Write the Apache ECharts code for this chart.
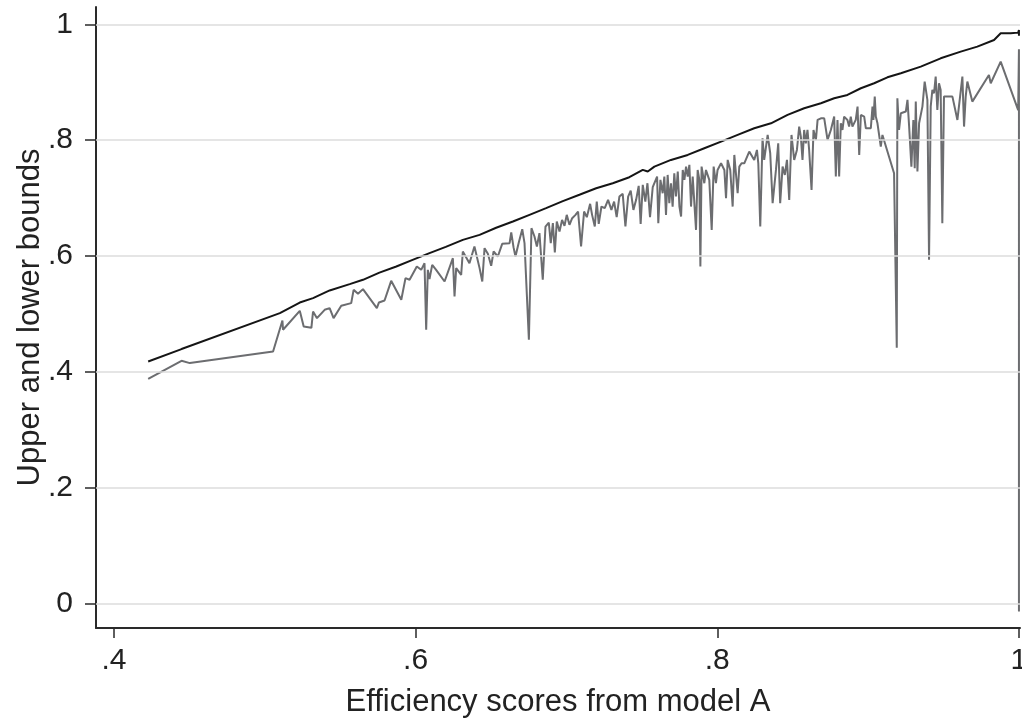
<!DOCTYPE html>
<html><head><meta charset="utf-8">
<script src="https://cdn.jsdelivr.net/npm/echarts@6/dist/echarts.min.js"></script>
<style>html,body{margin:0;padding:0;background:#fff}#c{width:1022px;height:724px}</style>
</head><body><div id="c"></div>
<script>
const xTicks = [0.4, 0.6, 0.8, 1];
const yTicks = [0, 0.2, 0.4, 0.6, 0.8, 1];
const xTitle = 'Efficiency scores from model A';
const yTitle = 'Upper and lower bounds';

const upperBound = [
[0.4227,0.4183],[0.4448,0.4397],[0.5100,0.5017],[0.5232,0.5200],[0.5320,0.5276],[0.5430,0.5408],
[0.5563,0.5517],[0.5651,0.5592],[0.5760,0.5715],[0.5872,0.5822],[0.5980,0.5935],[0.6092,0.6051],
[0.6200,0.6160],[0.6313,0.6281],[0.6424,0.6367],[0.6534,0.6490],[0.6645,0.6597],[0.6755,0.6713],
[0.6865,0.6828],[0.6976,0.6950],[0.7086,0.7060],[0.7197,0.7172],[0.7307,0.7258],[0.7417,0.7362],
[0.7506,0.7488],[0.7539,0.7459],[0.7583,0.7545],[0.7693,0.7660],[0.7804,0.7746],[0.7914,0.7861],
[0.8025,0.7976],[0.8135,0.8091],[0.8245,0.8206],[0.8356,0.8292],[0.8466,0.8436],[0.8576,0.8551],
[0.8687,0.8637],[0.8775,0.8723],[0.8863,0.8781],[0.8952,0.8896],[0.9040,0.8982],[0.9128,0.9085],
[0.9217,0.9155],[0.9349,0.9270],[0.9481,0.9413],[0.9614,0.9528],[0.9724,0.9614],[0.9835,0.9729],
[0.9879,0.9844],[0.9945,0.9844],[0.9995,0.9856],[1.0,0.9900],[1.0,0.9800]
];

const lowerBound = [
[0.4227,0.3884],[0.4448,0.4195],[0.4503,0.4155],[0.5055,0.4355],[0.5117,0.4890],[0.5121,0.4730],
[0.5232,0.5057],[0.5258,0.4787],[0.5309,0.4764],[0.5320,0.5045],[0.5346,0.4930],[0.5397,0.5074],
[0.5430,0.5103],[0.5456,0.4931],[0.5507,0.5143],[0.5573,0.5189],[0.5589,0.5419],[0.5618,0.5350],
[0.5651,0.5431],[0.5743,0.5103],[0.5757,0.5201],[0.5794,0.5235],[0.5838,0.5574],[0.5905,0.5247],
[0.5933,0.5620],[0.5960,0.5592],[0.6008,0.5822],[0.6037,0.5764],[0.6059,0.5879],[0.6070,0.4730],
[0.6081,0.5764],[0.6092,0.5603],[0.6110,0.5850],[0.6136,0.5764],[0.6192,0.5563],[0.6247,0.5965],
[0.6258,0.5304],[0.6269,0.5793],[0.6302,0.5678],[0.6313,0.6080],[0.6357,0.5879],[0.6390,0.6166],
[0.6424,0.5793],[0.6442,0.5563],[0.6457,0.6138],[0.6479,0.6040],[0.6501,0.5833],[0.6517,0.6080],
[0.6545,0.5994],[0.6574,0.6212],[0.6623,0.6224],[0.6634,0.6408],[0.6649,0.6155],[0.6662,0.5994],
[0.6684,0.6235],[0.6707,0.6465],[0.6722,0.6224],[0.6751,0.4557],[0.6768,0.6482],[0.6788,0.6339],
[0.6804,0.6166],[0.6821,0.6396],[0.6843,0.5592],[0.6861,0.6511],[0.6883,0.6580],[0.6896,0.6224],
[0.6910,0.6569],[0.6923,0.6063],[0.6936,0.6597],[0.6954,0.6425],[0.6971,0.6626],[0.6987,0.6523],
[0.7002,0.6712],[0.7020,0.6540],[0.7038,0.6655],[0.7060,0.6712],[0.7077,0.6770],[0.7097,0.6166],
[0.7117,0.6770],[0.7135,0.6672],[0.7157,0.6902],[0.7170,0.6712],[0.7188,0.6511],[0.7201,0.6942],
[0.7214,0.6557],[0.7232,0.6856],[0.7254,0.6827],[0.7276,0.6971],[0.7298,0.6798],[0.7316,0.6942],
[0.7333,0.6672],[0.7351,0.7028],[0.7373,0.7074],[0.7391,0.6511],[0.7409,0.7028],[0.7426,0.7132],
[0.7444,0.6798],[0.7462,0.6971],[0.7479,0.7212],[0.7492,0.6557],[0.7506,0.7229],[0.7523,0.6942],
[0.7537,0.7258],[0.7554,0.6672],[0.7572,0.7189],
[0.7583,0.7200],[0.7601,0.7373],[0.7609,0.6568],[0.7623,0.7315],[0.7638,0.7085],[0.7649,0.7373],
[0.7660,0.6712],[0.7671,0.7401],[0.7682,0.6913],[0.7693,0.7258],[0.7704,0.6855],[0.7715,0.7430],
[0.7726,0.7028],[0.7738,0.7459],[0.7749,0.6855],[0.7760,0.6683],[0.7771,0.7487],[0.7782,0.7315],
[0.7793,0.7545],[0.7804,0.7373],[0.7815,0.7574],[0.7826,0.6855],[0.7837,0.7373],[0.7848,0.7401],
[0.7859,0.6453],[0.7870,0.7487],[0.7881,0.7315],[0.7888,0.5821],[0.7896,0.7545],[0.7914,0.7258],
[0.7925,0.7487],[0.7947,0.7315],[0.7963,0.6453],[0.7976,0.7545],[0.7991,0.7258],[0.8002,0.7487],
[0.8025,0.7602],[0.8047,0.7487],[0.8058,0.6999],[0.8069,0.7660],[0.8086,0.7487],[0.8102,0.6855],
[0.8113,0.7746],[0.8135,0.7085],[0.8146,0.7545],[0.8161,0.7602],[0.8179,0.7602],[0.8212,0.7804],
[0.8245,0.7660],[0.8263,0.7832],[0.8272,0.7602],[0.8285,0.6510],[0.8300,0.8033],[0.8311,0.7660],
[0.8334,0.8091],[0.8351,0.7775],[0.8367,0.6913],[0.8389,0.7487],[0.8404,0.7947],[0.8417,0.6913],
[0.8433,0.7545],[0.8448,0.7401],[0.8462,0.7660],[0.8477,0.6970],[0.8492,0.8091],[0.8510,0.7660],
[0.8528,0.7832],[0.8543,0.8235],[0.8554,0.8062],[0.8565,0.7660],[0.8576,0.8177],[0.8587,0.7947],
[0.8598,0.8177],[0.8609,0.7832],[0.8625,0.7143],[0.8638,0.8177],[0.8654,0.8005],[0.8665,0.8350],
[0.8687,0.8378],[0.8709,0.8378],[0.8731,0.8005],[0.8753,0.8177],
[0.8775,0.8407],[0.8786,0.7373],[0.8797,0.8350],[0.8808,0.7373],[0.8819,0.8292],[0.8830,0.8177],
[0.8841,0.8407],[0.8863,0.8350],[0.8874,0.8235],[0.8885,0.8407],[0.8896,0.8235],[0.8918,0.8350],
[0.8930,0.8580],[0.8941,0.7746],[0.8952,0.8436],[0.8974,0.8407],[0.8985,0.8206],[0.9018,0.8206],
[0.9029,0.8580],[0.9035,0.8350],[0.9044,0.8752],[0.9051,0.8407],[0.9062,0.8292],[0.9084,0.7890],
[0.9095,0.8091],[0.9106,0.8091],[0.9172,0.7430],[0.9183,0.7430],[0.9190,0.4420],[0.9194,0.8723],
[0.9205,0.8177],[0.9217,0.8465],[0.9250,0.8494],[0.9261,0.8695],[0.9272,0.8235],[0.9287,0.7545],
[0.9300,0.8350],[0.9309,0.7517],[0.9316,0.8666],[0.9327,0.7459],[0.9338,0.8292],[0.9360,0.8580],
[0.9375,0.9011],[0.9393,0.8695],[0.9404,0.5936],[0.9415,0.8580],[0.9426,0.8867],[0.9437,0.8810],
[0.9448,0.9097],[0.9459,0.8522],[0.9470,0.8982],[0.9481,0.8867],[0.9492,0.6568],[0.9503,0.8752],
[0.9559,0.8752],[0.9592,0.8350],[0.9625,0.9097],[0.9636,0.8235],[0.9647,0.8752],[0.9658,0.9011],
[0.9669,0.8982],[0.9691,0.8666],[0.9801,0.9126],[0.9813,0.8982],[0.9879,0.9356],[0.9995,0.8520],
[1.0,0.9570],[1.0,-0.0130]
];

const FONT = '"Liberation Sans", Arial, sans-serif';
const fmt = v => {
  const r = Math.round(v * 10) / 10;
  if (r === 0) return '0';
  if (r === 1) return '1';
  return String(r).replace(/^0/, '');
};
const axisColor = '#2a2a2a';

const chart = echarts.init(document.getElementById('c'), null, {renderer: 'canvas'});
chart.setOption({
  animation: false,
  backgroundColor: '#ffffff',
  grid: {left: 96, right: 2, top: 7, bottom: 96, containLabel: false, outerBoundsMode: 'none'},
  xAxis: {
    type: 'value', min: 0.3881, max: 1.0007,
    axisLine: {show: true, onZero: false, lineStyle: {color: axisColor, width: 2}},
    axisTick: {show: true, customValues: xTicks, length: 10, lineStyle: {color: axisColor, width: 1.5}},
    axisLabel: {customValues: xTicks, formatter: fmt, fontSize: 30, color: '#222', margin: 18, fontFamily: FONT},
    splitLine: {show: false},
    name: xTitle, nameLocation: 'middle', nameGap: 59,
    nameTextStyle: {fontSize: 31, color: '#222', fontFamily: FONT}
  },
  yAxis: {
    type: 'value', min: -0.0415, max: 1.0298,
    axisLine: {show: true, onZero: false, lineStyle: {color: axisColor, width: 2}},
    axisTick: {show: true, customValues: yTicks, length: 11, lineStyle: {color: axisColor, width: 1.5}},
    axisLabel: {customValues: yTicks, formatter: fmt, fontSize: 30, color: '#222', margin: 23, fontFamily: FONT},
    splitLine: {show: false},
    name: yTitle, nameLocation: 'middle', nameGap: 50, nameMoveOverlap: false,
    nameTextStyle: {fontSize: 31, color: '#222', fontFamily: FONT}
  },
  series: [
    {
      type: 'line', data: [], z: 1, silent: true,
      markLine: {
        silent: true, symbol: ['none', 'none'], label: {show: false},
        lineStyle: {color: '#dcdcdc', type: 'solid', width: 1.5},
        emphasis: {disabled: true},
        data: yTicks.map(v => ({yAxis: v}))
      }
    },
    {
      name: 'lower', type: 'line', data: lowerBound, showSymbol: false, z: 3,
      lineStyle: {color: '#6c6d70', width: 2}, itemStyle: {color: '#6c6d70'}
    },
    {
      name: 'upper', type: 'line', data: upperBound, showSymbol: false, z: 4,
      lineStyle: {color: '#151515', width: 2}, itemStyle: {color: '#151515'}
    }
  ]
});
</script>
</body></html>
